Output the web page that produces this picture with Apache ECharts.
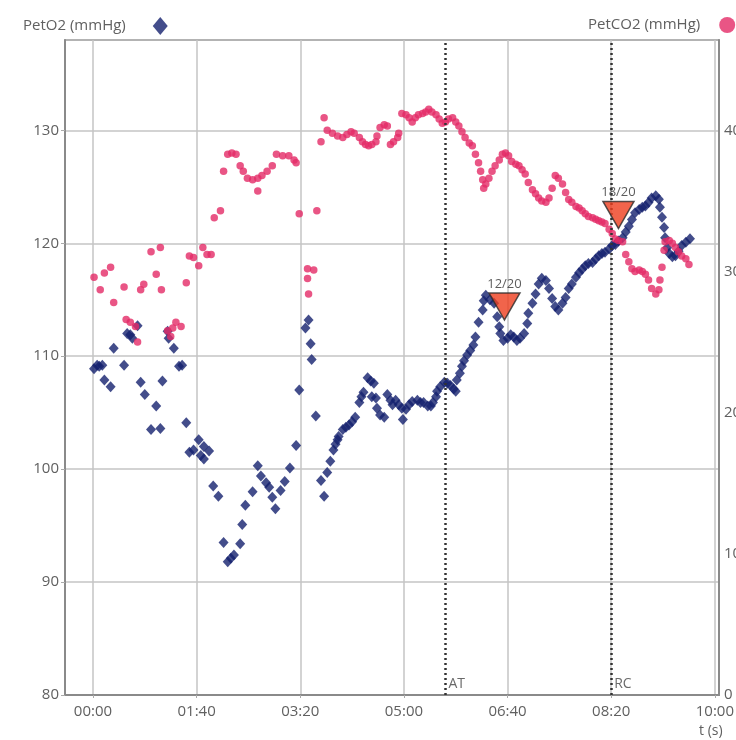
<!DOCTYPE html>
<html><head><meta charset="utf-8">
<script src="https://cdn.jsdelivr.net/npm/echarts@6/dist/echarts.min.js"></script>
<style>html,body{margin:0;padding:0;background:#fff}#c{width:736px;height:740px}</style>
</head><body><div id="c"></div>
<script>
// ---- data (time in seconds) ----
const o2Time = [1,4,6,9,11,17,20,30,33,36,38,43,46,50,56,61,65,67,72,73,78,83,86,90,93,97,102,104,107,107,112,116,121,126,130,133,136,142,144,147,154,159,162,167,170,173,176,181,185,190,196,199,205,208,210,211,215,220,223,226,229,232,234,236,237,241,244,247,250,253,257,259,261,265,268,269,271,273,274,277,281,284,287,289,292,295,298,299,302,305,308,313,316,319,323,326,328,331,332,335,339,342,345,348,350,351,354,356,358,361,364,367,369,372,376,377,379,383,387,390,392,393,396,400,403,406,409,412,416,419,420,424,427,430,433,437,440,443,446,449,453,456,459,462,466,469,472,475,478,482,485,488,491,494,498,501,504,507,511,514,517,520,523,527,530,533,536,539,543,546,547,549,551,552,554,556,559,562,565,568,572,576];
const o2Values = [108.9,109.2,109.1,109.2,107.9,107.3,110.7,109.2,112.0,111.9,111.6,112.7,107.7,106.6,103.5,105.6,103.6,107.8,112.2,111.6,110.7,109.1,109.2,104.1,101.5,101.7,102.6,101.2,102.0,100.9,101.6,98.5,97.6,93.5,91.8,92.1,92.4,93.4,95.1,96.8,98.0,100.3,99.4,98.8,98.4,97.5,96.5,98.1,98.9,100.1,102.1,107.0,112.5,113.2,111.1,109.7,104.7,99.0,97.6,99.7,100.7,101.7,102.2,102.6,102.9,103.5,103.7,103.9,104.2,104.6,105.9,106.4,106.8,108.1,107.8,106.4,107.6,106.3,105.4,104.8,104.6,106.6,106.1,105.7,106.1,105.7,105.4,104.4,105.3,105.7,106.0,106.1,105.9,105.9,105.6,105.6,105.9,106.4,106.9,107.3,107.7,107.6,107.4,107.1,106.9,107.9,108.5,109.1,109.6,110.1,110.5,111.0,111.7,113.0,114.1,114.9,115.4,115.0,114.7,113.5,112.6,112.0,111.4,111.6,111.9,111.7,111.4,111.6,112.0,112.9,113.8,114.7,115.5,116.4,116.9,116.7,116.0,115.1,114.4,114.1,114.7,115.2,116.0,116.4,117.0,117.4,117.7,118.0,118.2,118.3,118.6,118.9,119.1,119.2,119.5,119.8,119.9,120.2,120.5,121.0,121.5,122.1,122.7,123.0,123.2,123.3,123.6,124.0,124.2,123.9,123.2,122.3,121.4,120.5,119.6,119.1,118.8,118.9,119.3,119.8,120.1,120.4];
const co2Time = [1,7,11,17,20,30,32,36,41,43,46,49,56,61,65,66,72,75,77,80,85,90,93,97,102,106,110,114,117,123,126,130,134,138,142,145,149,154,159,159,163,168,173,177,183,189,194,196,199,207,207,208,213,216,220,223,226,231,236,241,245,249,252,257,260,263,266,269,273,274,277,281,284,287,290,294,295,298,302,305,308,311,314,318,321,324,327,331,334,337,340,343,347,350,353,356,359,363,366,369,372,374,376,377,379,382,385,388,392,395,398,401,404,408,411,414,417,420,424,427,430,433,437,440,443,446,449,453,456,459,462,466,469,472,475,478,482,485,488,491,494,498,501,504,507,511,514,517,520,523,527,530,533,536,539,543,546,547,549,551,552,556,559,562,565,568,572,575];
const co2Values = [29.6,28.7,29.9,30.3,27.8,28.9,26.6,26.4,26.1,25.0,28.7,29.1,31.4,29.8,31.7,28.7,25.8,25.4,26.0,26.4,26.1,29.2,31.1,31.0,30.4,31.7,31.2,31.2,33.8,34.3,37.1,38.3,38.4,38.3,37.5,37.1,36.6,36.5,36.6,35.7,36.8,37.1,37.5,38.3,38.2,38.2,37.9,37.7,34.1,30.2,29.5,28.4,30.1,34.3,39.2,40.9,40.0,39.8,39.6,39.5,39.7,39.9,39.8,39.5,39.2,39.0,38.9,39.0,39.2,39.6,40.2,40.4,40.3,39.0,39.2,39.5,39.8,41.2,41.1,40.9,40.6,40.9,41.1,41.2,41.3,41.5,41.3,41.1,40.8,40.5,40.6,40.8,40.9,40.6,40.3,39.9,39.5,39.1,38.9,38.3,37.7,37.1,36.5,35.9,36.2,36.6,37.1,37.5,37.9,38.3,38.4,38.2,37.8,37.6,37.5,37.2,36.9,36.3,35.8,35.5,35.2,35.0,34.9,35.2,35.9,36.8,36.6,36.2,35.6,35.1,34.9,34.6,34.5,34.3,34.1,33.9,33.8,33.7,33.6,33.5,33.4,33.0,32.7,32.3,32.2,32.1,31.2,30.7,30.2,30.0,30.1,30.0,29.8,29.4,28.8,28.4,28.7,29.4,30.3,31.5,32.1,32.2,32.0,31.7,31.4,31.1,30.9,30.5];
const xTicks = [0,100,200,300,400,500,600];
const o2Ticks = [80,90,100,110,120,130];
const co2Ticks = [0,10,20,30,40];
const thresholdNames = ['AT','RC'];
const thresholdTimes = [340,500];
const markerLabels = ['12/20','18/20'];
const markerTimes = [397,507];
const markerO2 = [114.4,122.5];

function mmss(v){const m=Math.floor(v/60),s=Math.round(v%60);return String(m).padStart(2,'0')+':'+String(s).padStart(2,'0');}
const FONT='"Open Sans", sans-serif';
const TXT='#606060';
const o2Data=o2Time.map((t,i)=>[t,o2Values[i]]);
const co2Data=co2Time.map((t,i)=>[t,co2Values[i]]);

const chart=echarts.init(document.getElementById('c'),null,{renderer:'canvas'});
chart.setOption({
  animation:false,
  backgroundColor:'#fff',
  textStyle:{fontFamily:FONT},
  grid:{left:65,right:17,top:40,bottom:45,containLabel:false,outerBoundsMode:'none',show:true,borderColor:'#9a9a9a',borderWidth:1.5},
  legend:[
    {data:['PetO2 (mmHg)'],left:18,top:12,align:'right',itemWidth:15,itemHeight:18,selectedMode:false,
     textStyle:{fontSize:15,color:TXT,fontFamily:FONT,padding:[0,22,0,0]}},
    {data:['PetCO2 (mmHg)'],left:583,top:12,align:'right',itemWidth:16,itemHeight:16,selectedMode:false,
     textStyle:{fontSize:15,color:TXT,fontFamily:FONT,padding:[0,14,0,0]}}
  ],
  graphic:[{type:'text',left:699,top:724,style:{text:'t (s)',fill:TXT,font:'14px '+FONT}}],
  xAxis:{type:'value',min:-27,max:604,
    axisLine:{show:true,onZero:false,lineStyle:{color:'#8a8a8a',width:2}},
    axisTick:{show:true,customValues:xTicks,length:3,lineStyle:{color:'#aaa'}},
    axisLabel:{customValues:xTicks,formatter:mmss,color:TXT,fontSize:15,margin:9,fontFamily:FONT},
    splitLine:{show:true,lineStyle:{color:'#c4c4c4',width:1.5}}},
  yAxis:[
    {type:'value',min:80,max:138,interval:10,
     axisLine:{show:true,onZero:false,lineStyle:{color:'#8a8a8a',width:2}},
     axisTick:{show:true,customValues:o2Ticks,length:4,lineStyle:{color:'#aaa'}},
     axisLabel:{customValues:o2Ticks,color:TXT,fontSize:15,margin:6,fontFamily:FONT},
     splitLine:{show:true,lineStyle:{color:'#c4c4c4',width:1.5}}},
    {type:'value',min:0,max:46.4,position:'right',
     axisLine:{show:true,onZero:false,lineStyle:{color:'#8a8a8a',width:2}},
     axisTick:{show:false,customValues:co2Ticks},
     axisLabel:{customValues:co2Ticks,color:TXT,fontSize:15,margin:5,fontFamily:FONT},
     splitLine:{show:false}}
  ],
  series:[
    {name:'PetO2 (mmHg)',type:'scatter',yAxisIndex:0,symbol:'diamond',symbolSize:[10,11],
     itemStyle:{color:'#14206e'},data:o2Data,z:2},
    {name:'PetCO2 (mmHg)',type:'scatter',yAxisIndex:1,symbol:'circle',symbolSize:7.5,
     itemStyle:{color:'#e42a66'},data:co2Data,z:3},
    {name:'thresholds',type:'scatter',yAxisIndex:0,symbolSize:0,z:4,
     data:thresholdTimes.map((t,i)=>({value:[t,81.0],name:thresholdNames[i]})),
     label:{show:true,position:'right',distance:3,formatter:p=>p.name,color:'#444',fontSize:14,fontFamily:FONT},
     markLine:{silent:true,symbol:'none',label:{show:false},
       lineStyle:{type:[2,3],width:2.5,color:'#333'},
       data:thresholdTimes.map(t=>({xAxis:t}))}},
    {name:'markers',type:'scatter',yAxisIndex:0,symbol:'triangle',symbolRotate:180,symbolSize:[31,27],z:5,
     itemStyle:{color:'#ee3d1e',borderColor:'#2a2a2a',borderWidth:1.5},
     data:markerTimes.map((t,i)=>({value:[t,markerO2[i]],name:markerLabels[i]})),
     label:{show:true,position:'top',distance:2,formatter:p=>p.name,color:'#333',fontSize:13,fontFamily:FONT}}
  ]
});
</script></body></html>
